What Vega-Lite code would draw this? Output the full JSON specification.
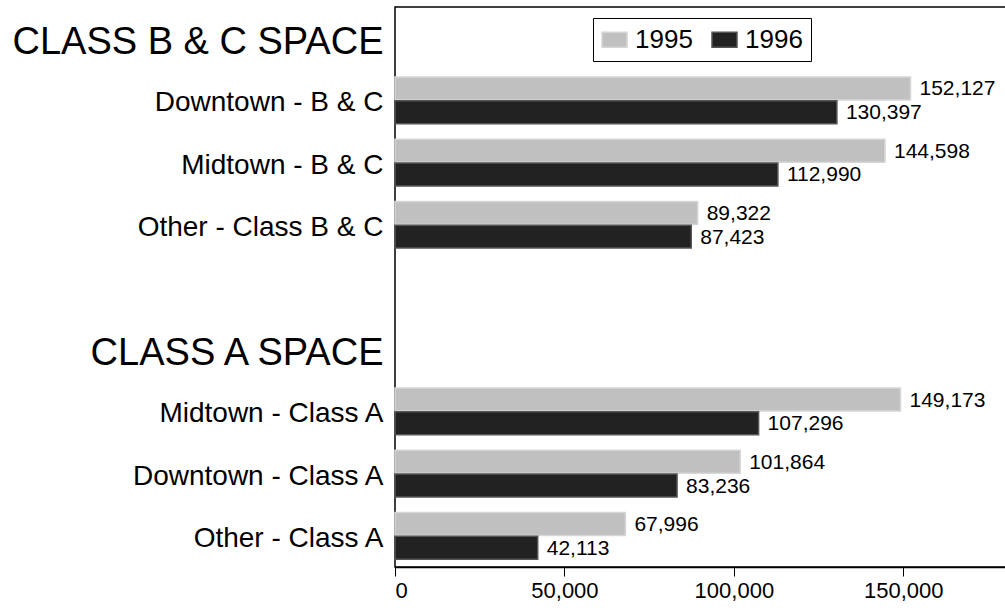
{
  "$schema": "https://vega.github.io/schema/vega-lite/v6.json",
  "width": 612,
  "height": 560,
  "autosize": "none",
  "padding": {"left": 395, "top": 7, "right": 0, "bottom": 41},
  "background": "white",
  "config": {
    "font": "Liberation Sans",
    "view": {"stroke": "black", "strokeWidth": 1.5}
  },
  "data": {
    "values": [
      {"category": "Downtown - B & C", "year": "1995", "value": 152127},
      {"category": "Downtown - B & C", "year": "1996", "value": 130397},
      {"category": "Midtown - B & C", "year": "1995", "value": 144598},
      {"category": "Midtown - B & C", "year": "1996", "value": 112990},
      {"category": "Other - Class B & C", "year": "1995", "value": 89322},
      {"category": "Other - Class B & C", "year": "1996", "value": 87423},
      {"category": "Midtown - Class A", "year": "1995", "value": 149173},
      {"category": "Midtown - Class A", "year": "1996", "value": 107296},
      {"category": "Downtown - Class A", "year": "1995", "value": 101864},
      {"category": "Downtown - Class A", "year": "1996", "value": 83236},
      {"category": "Other - Class A", "year": "1995", "value": 67996},
      {"category": "Other - Class A", "year": "1996", "value": 42113}
    ]
  },
  "encoding": {
    "y": {
      "field": "category",
      "type": "nominal",
      "scale": {
        "domain": ["CLASS B & C SPACE", "Downtown - B & C", "Midtown - B & C", "Other - Class B & C", " ", "CLASS A SPACE", "Midtown - Class A", "Downtown - Class A", "Other - Class A"],
        "paddingInner": 0.25,
        "paddingOuter": 0.125
      },
      "axis": {
        "title": null,
        "ticks": false,
        "domain": false,
        "labelPadding": 12,
        "labelLimit": 500,
        "labelColor": "black",
        "labelOffset": {"condition": {"test": "indexof(datum.label, 'SPACE') >= 0", "value": 5}, "value": 3},
        "labelFontSize": {"condition": {"test": "indexof(datum.label, 'SPACE') >= 0", "value": 38}, "value": 28}
      }
    },
    "yOffset": {
      "field": "year",
      "type": "nominal",
      "scale": {"domain": ["1995", "1996"], "paddingInner": 0.03}
    },
    "x": {
      "field": "value",
      "type": "quantitative",
      "scale": {"domain": [0, 180600], "nice": false},
      "axis": {
        "title": null,
        "values": [0, 50000, 100000, 150000],
        "labelExpr": "format(datum.value, ',')",
        "grid": false,
        "labelFontSize": 22,
        "labelColor": "black",
        "tickColor": "black",
        "tickSize": 9,
        "domainColor": "black",
        "domainWidth": 1.5,
        "labelPadding": 4
      }
    }
  },
  "layer": [
    {
      "mark": {"type": "bar", "strokeWidth": 1.5},
      "encoding": {
        "color": {
          "field": "year",
          "type": "nominal",
          "scale": {"domain": ["1995", "1996"], "range": ["#c0c0c0", "#222222"]},
          "legend": {
            "title": null,
            "orient": "none",
            "legendX": 198,
            "legendY": 11,
            "direction": "horizontal",
            "strokeColor": "black",
            "padding": 8,
            "labelFontSize": 26,
            "labelColor": "black",
            "labelOffset": 7,
            "columnPadding": 16,
            "symbolType": "M-1,-0.6H1V0.6H-1Z",
            "symbolSize": 625,
            "symbolStrokeColor": "#222222",
            "symbolStrokeWidth": 1.5,
            "symbolOpacity": 1
          }
        },
        "stroke": {
          "field": "year",
          "type": "nominal",
          "scale": {"domain": ["1995", "1996"], "range": ["#d6d6d6", "#555555"]},
          "legend": null
        }
      }
    },
    {
      "mark": {"type": "text", "align": "left", "baseline": "middle", "dx": 9, "dy": 1, "fontSize": 21, "color": "black"},
      "encoding": {
        "text": {"field": "value", "type": "quantitative", "format": ","}
      }
    }
  ]
}
